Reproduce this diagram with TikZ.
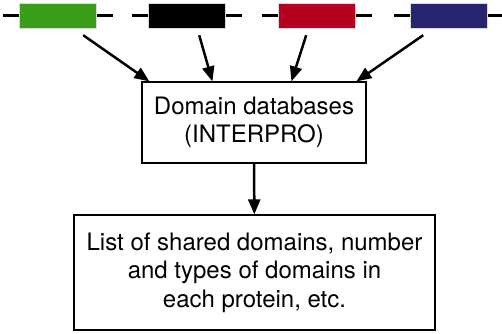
\documentclass[tikz,border=0pt]{standalone}
\usepackage{fontspec}
\setmainfont{TeX Gyre Heros}
\usetikzlibrary{arrows.meta, positioning}
\definecolor{domgreen}{RGB}{58,158,26}
\definecolor{domred}{RGB}{181,0,30}
\definecolor{domblue}{RGB}{38,36,110}

\begin{document}
\begin{tikzpicture}[x=1pt, y=-1pt, font=\fontsize{24}{28.5}\selectfont,
    box/.style={draw, line width=1.2pt, align=center, inner sep=0pt},
    link/.style={-{Triangle[length=15pt, width=12pt]}, line width=2.5pt}]
    \useasboundingbox (0,0) rectangle (502,333);
    % proteins with their domains
    \foreach \x/\c [count=\i] in {3/domgreen, 132/black, 262/domred, 394/domblue} {
        \draw[line width=2.2pt] (\x,15.5) -- ++(110,0);
        \node[fill=\c, draw=gray!30, line width=0.4pt, minimum width=77pt, minimum height=25pt, inner sep=0pt, anchor=west] (dom\i) at (\x+16,15.5) {};
    }
    \node[box, minimum width=224pt, minimum height=81pt] (db) at (254,122.5) {Domain databases\\(INTERPRO)};
    \node[box, minimum width=361pt, minimum height=115pt] (list) at (254.5,272.5) {List of shared domains, number\\and types of domains in\\each protein, etc.};
    % arrows into the database
    \foreach \i/\s/\e in {1/25.5/8, 2/12.5/71, 3/-10.5/150, 4/-25.5/215} {
        \draw[link] ([xshift=\s pt, yshift=-7pt]dom\i.south) -- ([xshift=\e pt]db.north west);
    }
    \draw[link] (db) -- (list);
\end{tikzpicture}
\end{document}
